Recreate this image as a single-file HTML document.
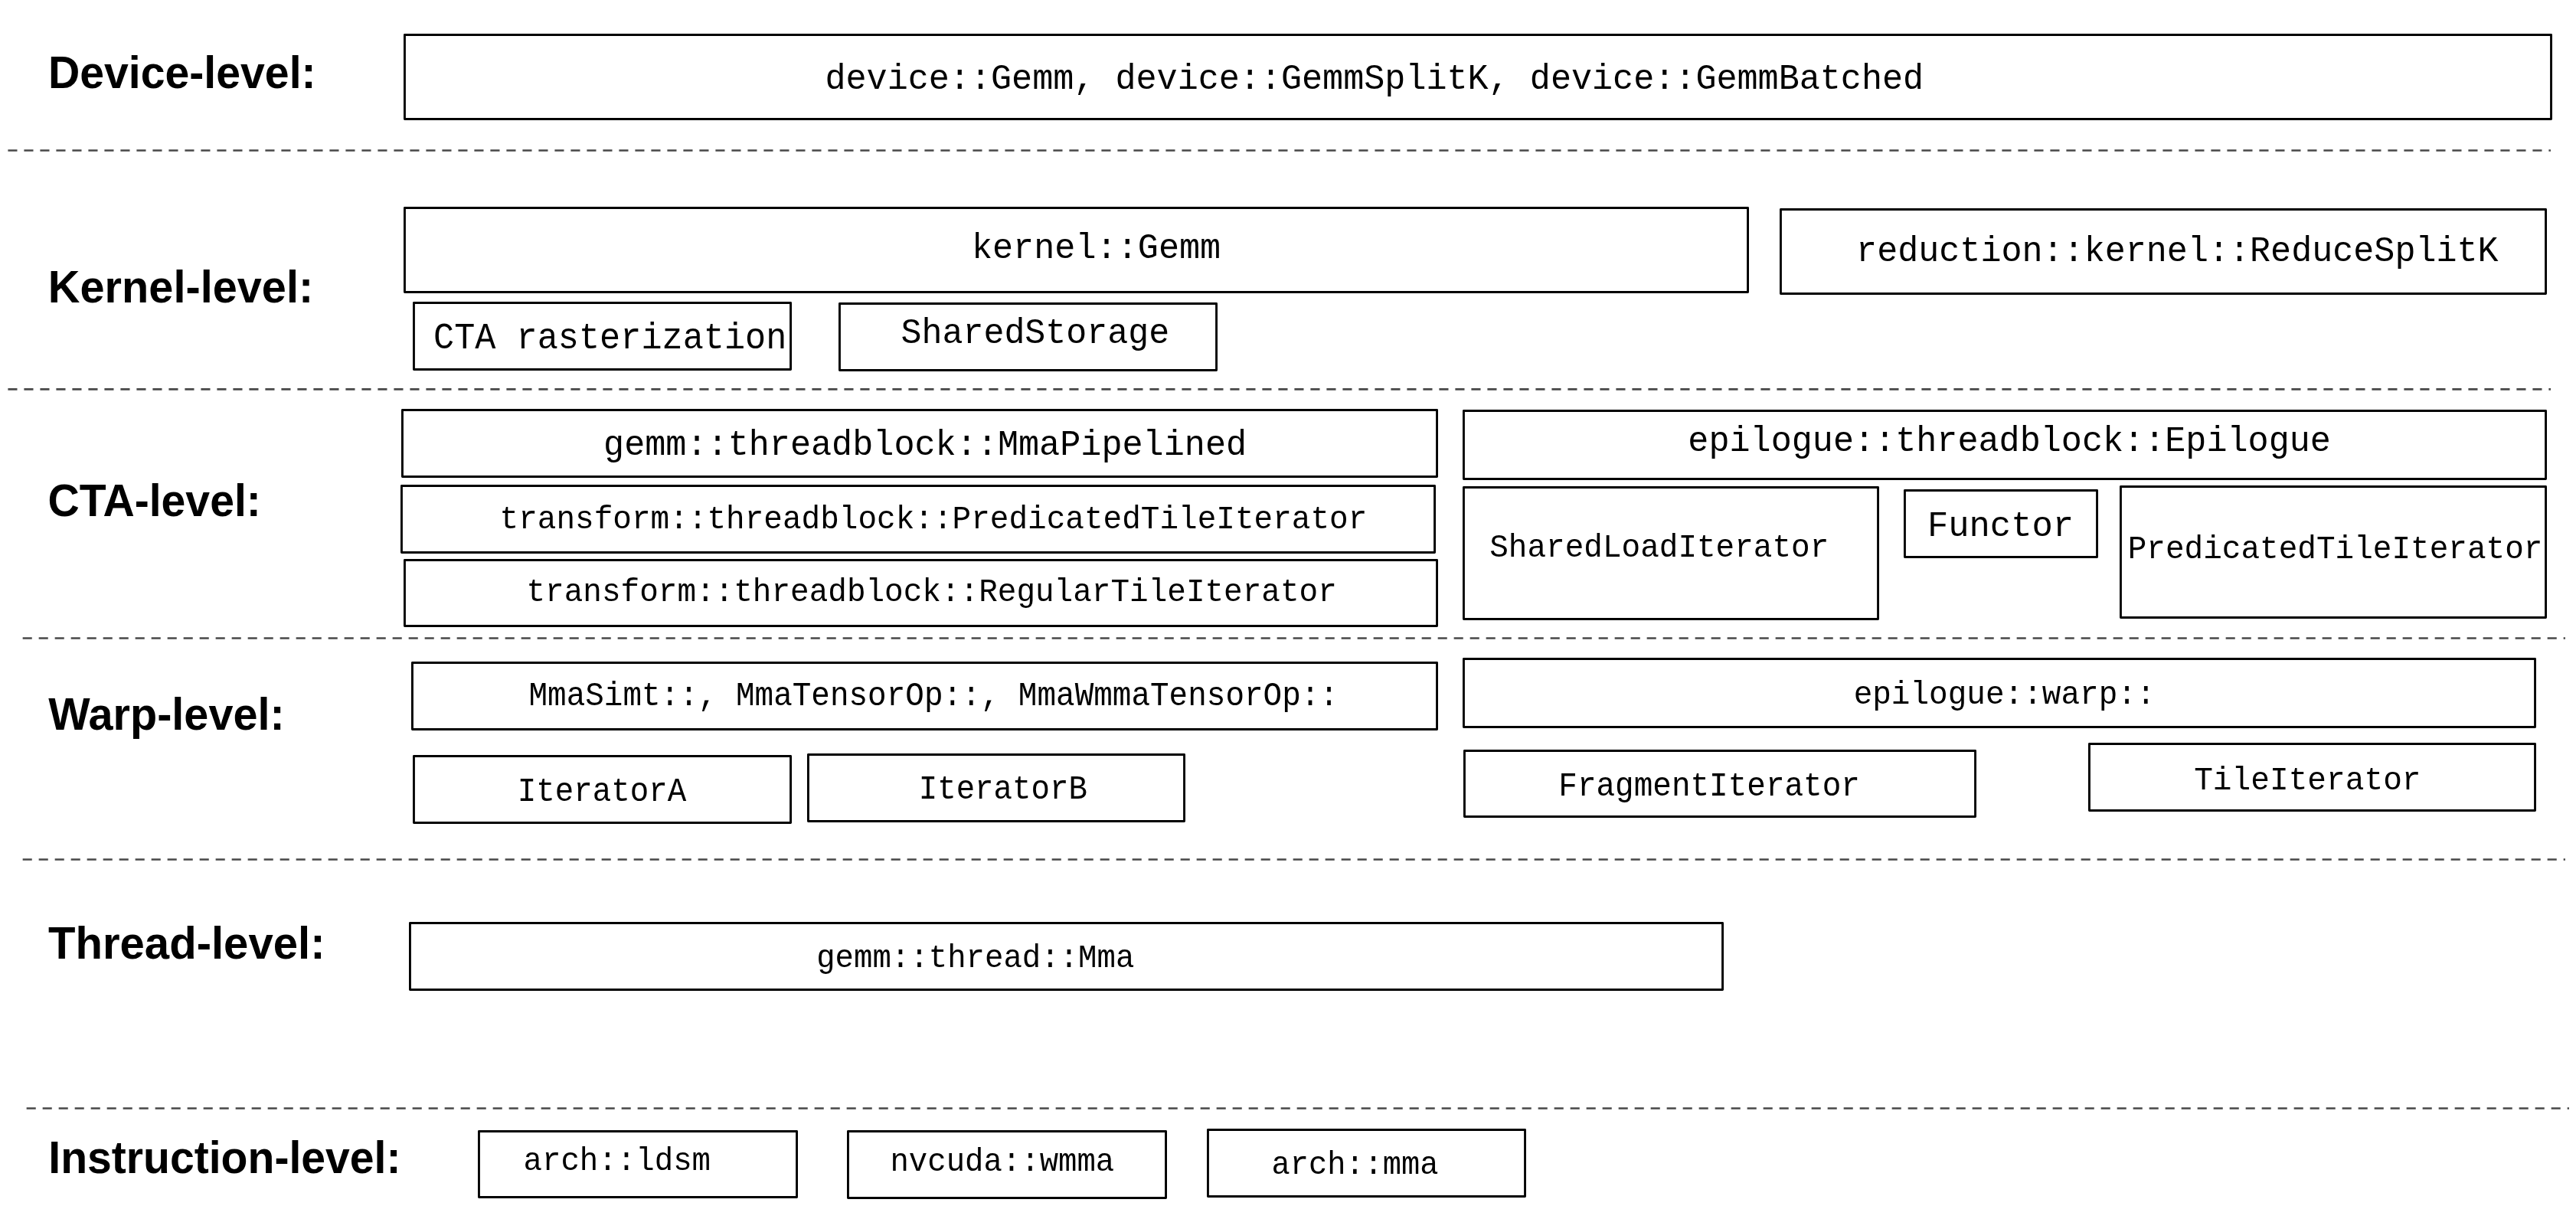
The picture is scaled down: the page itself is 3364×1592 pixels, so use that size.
<!DOCTYPE html>
<html><head><meta charset="utf-8"><title>Diagram</title>
<style>html,body{margin:0;padding:0;background:#fff;width:3364px;height:1592px;overflow:hidden}svg{display:block;will-change:transform}.m{font-family:"Liberation Mono",monospace;font-size:100px}.b{font-family:"Liberation Sans",sans-serif;font-weight:bold;font-size:100px}</style></head><body>
<svg width="3364" height="1592" viewBox="0 0 3364 1592">
<rect width="3364" height="1592" fill="#fff"/>
<g fill="none" stroke="#484848" stroke-width="2.7" stroke-dasharray="12.1 8.9">
 <line x1="10.4" y1="196.5" x2="3331" y2="196.5"/>
 <line x1="10.4" y1="508.4" x2="3331" y2="508.4"/>
 <line x1="29.65" y1="833.5" x2="3350" y2="833.5"/>
 <line x1="29.65" y1="1122.5" x2="3350" y2="1122.5"/>
 <line x1="34.65" y1="1447.5" x2="3355" y2="1447.5"/>
</g>
<g fill="none" stroke="#000" stroke-width="2.9" stroke-linejoin="round">
 <rect x="528.45" y="45.45" width="2803.10" height="110.10"/>
 <rect x="528.45" y="271.45" width="1754.10" height="110.10"/>
 <rect x="2325.45" y="273.45" width="999.10" height="110.10"/>
 <rect x="540.45" y="395.45" width="492.10" height="87.10"/>
 <rect x="1096.45" y="396.45" width="492.10" height="87.10"/>
 <rect x="525.45" y="535.45" width="1351.10" height="87.10"/>
 <rect x="524.45" y="634.45" width="1349.10" height="87.10"/>
 <rect x="528.45" y="731.45" width="1348.10" height="86.10"/>
 <rect x="1911.45" y="536.45" width="1413.10" height="89.10"/>
 <rect x="1911.45" y="636.45" width="541.10" height="172.10"/>
 <rect x="2487.45" y="640.45" width="251.10" height="87.10"/>
 <rect x="2769.45" y="635.45" width="555.10" height="171.10"/>
 <rect x="538.45" y="865.45" width="1338.10" height="87.10"/>
 <rect x="540.45" y="987.45" width="492.10" height="87.10"/>
 <rect x="1055.45" y="985.45" width="491.10" height="87.10"/>
 <rect x="1911.45" y="860.45" width="1399.10" height="89.10"/>
 <rect x="1912.45" y="980.45" width="667.10" height="86.10"/>
 <rect x="2728.45" y="971.45" width="582.10" height="87.10"/>
 <rect x="535.45" y="1205.45" width="1714.10" height="87.10"/>
 <rect x="625.45" y="1477.45" width="415.10" height="86.10"/>
 <rect x="1107.45" y="1477.45" width="415.10" height="87.10"/>
 <rect x="1577.45" y="1475.45" width="414.10" height="87.10"/>
</g>
<g fill="#000">
 <text class="m" transform="translate(1077.44 116.00) scale(0.45115 0.46849)">device::Gemm, device::GemmSplitK, device::GemmBatched</text>
 <text class="m" transform="translate(1268.88 337.20) scale(0.45192 0.46575)">kernel::Gemm</text>
 <text class="m" transform="translate(2424.09 340.90) scale(0.45081 0.46575)">reduction::kernel::ReduceSplitK</text>
 <text class="m" transform="translate(565.99 454.80) scale(0.45234 0.48806)">CTA rasterization</text>
 <text class="m" transform="translate(1176.50 448.10) scale(0.44967 0.46849)">SharedStorage</text>
 <text class="m" transform="translate(788.04 594.00) scale(0.45163 0.46712)">gemm::threadblock::MmaPipelined</text>
 <text class="m" transform="translate(652.51 689.90) scale(0.41043 0.42055)">transform::threadblock::PredicatedTileIterator</text>
 <text class="m" transform="translate(687.51 784.90) scale(0.41022 0.42055)">transform::threadblock::RegularTileIterator</text>
 <text class="m" transform="translate(2204.34 589.00) scale(0.45143 0.46712)">epilogue::threadblock::Epilogue</text>
 <text class="m" transform="translate(1945.26 726.60) scale(0.41031 0.43288)">SharedLoadIterator</text>
 <text class="m" transform="translate(2516.90 699.80) scale(0.45522 0.46970)">Functor</text>
 <text class="m" transform="translate(2778.72 729.10) scale(0.41036 0.42192)">PredicatedTileIterator</text>
 <text class="m" transform="translate(690.44 920.90) scale(0.40984 0.43636)">MmaSimt::, MmaTensorOp::, MmaWmmaTensorOp::</text>
 <text class="m" transform="translate(675.72 1045.80) scale(0.40830 0.43788)">IteratorA</text>
 <text class="m" transform="translate(1199.72 1043.00) scale(0.40779 0.43939)">IteratorB</text>
 <text class="m" transform="translate(2420.63 919.00) scale(0.41033 0.42466)">epilogue::warp::</text>
 <text class="m" transform="translate(2035.31 1038.90) scale(0.41008 0.43636)">FragmentIterator</text>
 <text class="m" transform="translate(2865.15 1031.00) scale(0.41174 0.42192)">TileIterator</text>
 <text class="m" transform="translate(1066.15 1262.90) scale(0.40723 0.42055)">gemm::thread::Mma</text>
 <text class="m" transform="translate(683.45 1528.15) scale(0.40781 0.42575)">arch::ldsm</text>
 <text class="m" transform="translate(1162.44 1529.10) scale(0.40664 0.42329)">nvcuda::wmma</text>
 <text class="m" transform="translate(1660.48 1533.00) scale(0.40377 0.42466)">arch::mma</text>
 <text class="b" transform="translate(62.90 114.70) scale(0.57193 0.58904)">Device-level:</text>
 <text class="b" transform="translate(62.86 394.70) scale(0.57705 0.58904)">Kernel-level:</text>
 <text class="b" transform="translate(62.51 673.90) scale(0.57146 0.58904)">CTA-level:</text>
 <text class="b" transform="translate(63.30 952.80) scale(0.57624 0.58630)">Warp-level:</text>
 <text class="b" transform="translate(63.02 1252.00) scale(0.58088 0.58904)">Thread-level:</text>
 <text class="b" transform="translate(63.30 1532.00) scale(0.57123 0.58630)">Instruction-level:</text>
</g>
</svg>
</body></html>
